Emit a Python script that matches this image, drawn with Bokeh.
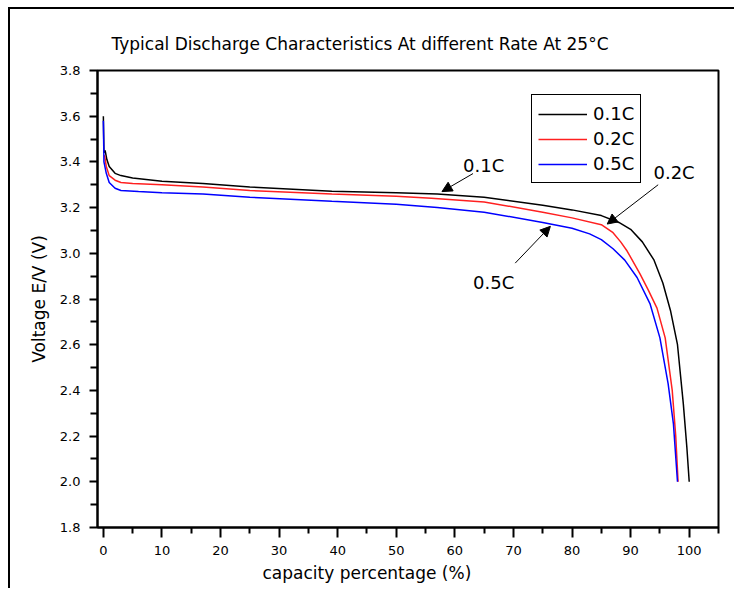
from bokeh.plotting import figure
from bokeh.models import (Range1d, FixedTicker, PrintfTickFormatter, Legend, LegendItem,
                          Label, Arrow, NormalHead, Title)
from bokeh.embed import file_html
from bokeh.resources import INLINE

# Discharge curves: capacity (%) vs voltage (V) at three rates
cap_01 = [0, 0.1, 0.3, 0.6, 1, 2, 3, 5, 10, 17, 25, 39, 50, 57, 65, 75, 80, 85, 88, 90,
          92, 94, 95.5, 96.8, 98, 99, 99.6, 100]
v_01 = [3.60, 3.44, 3.45, 3.41, 3.38, 3.35, 3.34, 3.33, 3.315, 3.305, 3.29, 3.272, 3.265,
        3.26, 3.245, 3.21, 3.19, 3.165, 3.135, 3.105, 3.05, 2.97, 2.87, 2.75, 2.60, 2.34,
        2.15, 2.00]

cap_02 = [0.2, 0.5, 1, 2, 3, 5, 10, 17, 25, 39, 50, 56, 65, 75, 80, 85, 87, 88.3, 89.4,
          91.6, 93, 94.5, 95.9, 97.1, 97.7, 98.1]
v_02 = [3.43, 3.38, 3.34, 3.32, 3.31, 3.305, 3.30, 3.29, 3.275, 3.26, 3.25, 3.241, 3.225,
        3.18, 3.155, 3.125, 3.09, 3.05, 3.01, 2.91, 2.84, 2.76, 2.63, 2.40, 2.20, 2.00]

cap_05 = [0, 0.1, 0.5, 1, 2, 3, 6, 10, 17, 25, 39, 50, 57, 65, 75, 80, 83, 85, 87, 89,
          91.1, 93.3, 95, 96.4, 97.3, 98]
v_05 = [3.58, 3.40, 3.35, 3.31, 3.285, 3.275, 3.27, 3.265, 3.26, 3.245, 3.228, 3.215,
        3.20, 3.18, 3.135, 3.11, 3.085, 3.06, 3.02, 2.97, 2.894, 2.78, 2.63, 2.43, 2.255,
        2.00]

series_names = ["0.1C", "0.2C", "0.5C"]
series_colors = ["black", "#ff2020", "#0000ff"]

x_ticks = [0, 10, 20, 30, 40, 50, 60, 70, 80, 90, 100]
x_minor = [5, 15, 25, 35, 45, 55, 65, 75, 85, 95, 105]
y_ticks = [1.8, 2.0, 2.2, 2.4, 2.6, 2.8, 3.0, 3.2, 3.4, 3.6, 3.8]
y_minor = [1.9, 2.1, 2.3, 2.5, 2.7, 2.9, 3.1, 3.3, 3.5, 3.7]

FONT = "DejaVu Sans"

p = figure(width=726, height=581, output_backend="svg", toolbar_location=None,
           x_range=Range1d(-1, 105), y_range=Range1d(1.8, 3.8),
           min_border_left=87, min_border_right=18, min_border_top=61, min_border_bottom=63)
# frame drawn round the whole figure on its left and top edges
p.styles = {"margin-left": "8px", "margin-top": "7px",
            "border-left": "2px solid black", "border-top": "2px solid black"}

p.title = Title(text="Typical Discharge Characteristics At different Rate At 25°C",
                align="left", offset=14, standoff=33, text_font=FONT,
                text_font_size="17px", text_font_style="normal", text_color="black")
p.add_layout(Title(text="capacity percentage (%)", align="left", offset=165, standoff=7,
                   text_font=FONT, text_font_size="17px", text_font_style="normal",
                   text_color="black"), "below")

p.xgrid.visible = False
p.ygrid.visible = False
p.outline_line_color = "black"
p.outline_line_width = 2
p.outline_line_alpha = 1
p.background_fill_color = "white"
p.border_fill_color = "white"

for ax in (p.xaxis[0], p.yaxis[0]):
    ax.axis_line_width = 2
    ax.axis_line_color = "black"
    ax.major_tick_line_width = 2
    ax.minor_tick_line_width = 2
    ax.major_tick_in = 0
    ax.minor_tick_in = 0
    ax.major_label_text_font = FONT
    ax.major_label_text_font_size = "13px"
    ax.major_label_text_color = "black"

p.xaxis[0].ticker = FixedTicker(ticks=x_ticks, minor_ticks=x_minor)
p.xaxis[0].major_tick_out = 10
p.xaxis[0].minor_tick_out = 6
p.xaxis[0].major_label_standoff = 8
p.yaxis[0].ticker = FixedTicker(ticks=y_ticks, minor_ticks=y_minor)
p.yaxis[0].formatter = PrintfTickFormatter(format="%.1f")
p.yaxis[0].major_tick_out = 8
p.yaxis[0].minor_tick_out = 7
p.yaxis[0].major_label_standoff = 9
p.yaxis[0].axis_label = "Voltage E/V (V)"
p.yaxis[0].axis_label_text_font = FONT
p.yaxis[0].axis_label_text_font_size = "17px"
p.yaxis[0].axis_label_text_font_style = "normal"
p.yaxis[0].axis_label_text_color = "black"
p.yaxis[0].axis_label_standoff = 8

renderers = []
for xs, ys, c in zip([cap_01, cap_02, cap_05], [v_01, v_02, v_05], series_colors):
    renderers.append(p.line(xs, ys, line_color=c, line_width=1.5))

legend = Legend(items=[LegendItem(label=n, renderers=[r]) for n, r in zip(series_names, renderers)],
                location=(434, 344), border_line_color="black", border_line_width=1.5,
                border_line_alpha=1, label_text_font=FONT, label_text_font_size="18px",
                label_text_color="black", glyph_width=49, glyph_height=20, label_height=25,
                label_standoff=6, spacing=0, padding=6, margin=0, background_fill_alpha=1)
p.add_layout(legend, "center")

# Rate call-outs with arrows pointing at each curve
callouts = [
    ("0.1C", 61.4, 3.384, 63.1, 3.349, 57.8, 3.27),
    ("0.2C", 93.9, 3.354, 94.7, 3.30, 86.0, 3.128),
    ("0.5C", 63.1, 2.872, 70.3, 2.957, 76.3, 3.118),
]
for txt, tx, ty, xs, ys, xe, ye in callouts:
    p.add_layout(Label(x=tx, y=ty, text=txt, text_font=FONT, text_font_size="18px",
                       text_color="black", text_baseline="middle", text_align="left"))
    p.add_layout(Arrow(x_start=xs, y_start=ys, x_end=xe, y_end=ye, line_width=1,
                       end=NormalHead(size=10, fill_color="black", line_color="black")))

open("out.html", "w").write(file_html(p, INLINE))
